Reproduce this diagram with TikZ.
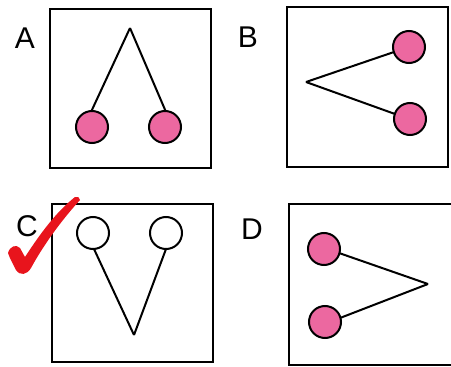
\documentclass[tikz,border=0pt]{standalone}
\usepackage{fontspec}
\setmainfont{Liberation Sans}
\definecolor{bead}{RGB}{236,104,160}
\definecolor{tick}{RGB}{232,20,28}
\tikzset{
  panel/.style={line width=2.2pt},
  rod/.style={line width=2pt},
  ball/.style={line width=2pt, fill=bead},
  ring/.style={line width=2pt, fill=white},
  lbl/.style={font=\fontsize{30}{32}\selectfont},
}

\begin{document}
\begin{tikzpicture}[x=1pt,y=-1pt]
  \useasboundingbox (0,0) rectangle (451,367);

  % Option A
  \draw[panel] (50,9) rectangle (211,168);
  \coordinate (A0) at (130,28);
  \node[lbl] (la) at (25,38) {A};
  \draw[rod] (A0) -- (91,112);
  \draw[rod] (A0) -- (166,112);
  \draw[ball] (92,127) circle (16);
  \draw[ball] (165,127) circle (16);

  % Option B
  \draw[panel] (287,7) rectangle (448,167);
  \coordinate (B0) at (306,82);
  \node[lbl] (lb) at (248,37) {B};
  \draw[rod] (B0) -- (394,52);
  \draw[rod] (B0) -- (395,114);
  \draw[ball] (409,47) circle (16);
  \draw[ball] (410,119) circle (16);

  % Option C
  \draw[panel] (52,204) rectangle (213,362);
  \coordinate (C0) at (134,335);
  \node[lbl] (lc) at (27,226) {C};
  \draw[rod] (C0) -- (94,249);
  \draw[rod] (C0) -- (166,249);
  \draw[ring] (93,233) circle (16);
  \draw[ring] (166,233) circle (16);

  % Option D
  \draw[panel] (289,204) rectangle (452,365);
  \coordinate (D0) at (428,284);
  \node[lbl] (ld) at (252,229) {D};
  \draw[rod] (D0) -- (339,253);
  \draw[rod] (D0) -- (340,318);
  \draw[ball] (324,249) circle (16);
  \draw[ball] (325,322) circle (16);

  % tick mark on C
  \fill[tick] (8,253) .. controls (10,246) and (16,244) .. (20,248)
    -- (25,257) .. controls (40,234) and (56,212) .. (75,197)
    .. controls (79,197) .. (80,200)
    .. controls (60,222) and (43,246) .. (31,268)
    .. controls (27,275) and (20,276) .. (16,270)
    .. controls (13,264) and (10,259) .. (8,253) -- cycle;
\end{tikzpicture}
\end{document}
